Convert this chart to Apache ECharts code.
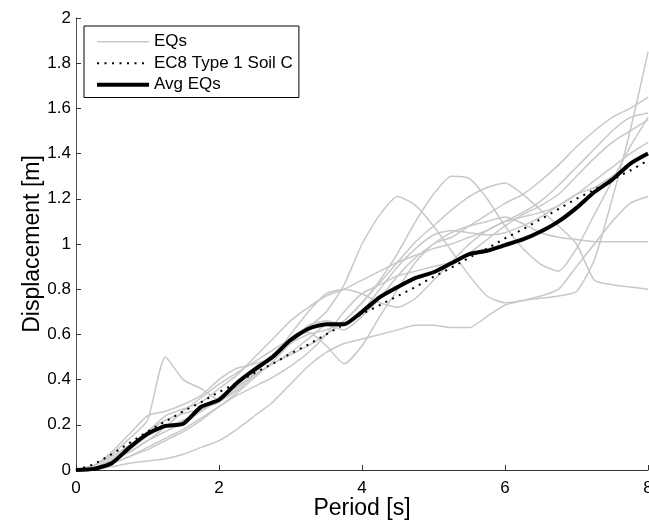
<!DOCTYPE html>
<html>
<head>
<meta charset="utf-8">
<script src="https://cdn.jsdelivr.net/npm/echarts@6/dist/echarts.min.js"></script>
<style>
  html, body { margin: 0; padding: 0; background: #fff; }
  #chart { width: 649px; height: 521px; }
</style>
</head>
<body>
<div id="chart"></div>
<script>
// periods [s], shared by all curves
const period = [0, 0.25, 0.5, 0.75, 1, 1.25, 1.5, 1.75, 2, 2.25, 2.5, 2.75, 3, 3.25, 3.5, 3.75, 4,
  4.25, 4.5, 4.75, 5, 5.25, 5.5, 5.75, 6, 6.25, 6.5, 6.75, 7, 7.25, 7.5, 7.75, 8];

// single earthquake displacement spectra [m]
const eq1 = [0, .02, .07, .14, .22, .50, .40, .36, .31, .35, .42, .47, .52, .58, .64, .62, .68, .76, .86, .94, 1.00, 1.05, 1.08, 1.10, 1.12, 1.09, 1.05, 1.03, 1.02, 1.01, 1.01, 1.01, 1.01];
const eq2 = [0, .01, .04, .08, .13, .17, .21, .26, .31, .37, .42, .47, .51, .55, .60, .66, .74, .84, .96, 1.10, 1.22, 1.30, 1.29, 1.20, 1.08, .98, .91, .88, .98, 1.13, 1.28, 1.43, 1.56];
const eq3 = [0, .01, .03, .06, .10, .14, .18, .23, .28, .34, .41, .48, .56, .63, .70, .82, 1.00, 1.13, 1.21, 1.17, 1.08, .97, .86, .77, .74, .75, .76, .77, .79, .93, 1.20, 1.50, 1.85];
const eq4 = [0, .02, .06, .11, .17, .22, .25, .27, .30, .36, .43, .50, .56, .60, .62, .66, .74, .83, .92, 1.01, 1.08, 1.15, 1.21, 1.25, 1.27, 1.22, 1.15, 1.08, 1.00, .84, .82, .81, .80];
const eq5 = [0, .01, .04, .08, .13, .19, .26, .32, .38, .43, .48, .53, .58, .61, .55, .47, .55, .68, .80, .92, 1.00, 1.03, 1.08, 1.13, 1.18, 1.22, 1.28, 1.35, 1.43, 1.50, 1.56, 1.60, 1.65];
const eq6 = [0, .005, .015, .03, .04, .05, .07, .10, .13, .18, .24, .30, .38, .46, .52, .56, .58, .60, .62, .64, .64, .63, .63, .68, .73, .75, .77, .80, .90, 1.00, 1.10, 1.18, 1.21];
const eq7 = [0, .01, .05, .10, .17, .24, .27, .30, .36, .42, .50, .58, .66, .72, .77, .80, .84, .88, .92, .95, .98, 1.00, 1.03, 1.06, 1.10, 1.14, 1.19, 1.26, 1.34, 1.42, 1.50, 1.56, 1.58];
const eq8 = [0, .01, .03, .06, .09, .13, .17, .22, .28, .33, .37, .41, .46, .52, .60, .70, .78, .82, .86, .88, .90, .92, .96, 1.02, 1.08, 1.13, 1.17, 1.22, 1.30, 1.38, 1.45, 1.50, 1.55];
const eq9 = [0, .02, .08, .16, .24, .26, .29, .33, .40, .45, .47, .50, .60, .70, .78, .80, .78, .74, .72, .76, .84, .92, 1.00, 1.06, 1.10, 1.12, 1.14, 1.17, 1.22, 1.28, 1.34, 1.40, 1.45];
const eq10 = [0, .01, .04, .09, .15, .19, .22, .26, .32, .38, .45, .51, .57, .64, .66, .64, .70, .80, .90, .98, 1.04, 1.06, 1.05, 1.04, 1.05, 1.08, 1.12, 1.17, 1.22, 1.25, 1.30, 1.35, 1.40];
const eqs = [eq1, eq2, eq3, eq4, eq5, eq6, eq7, eq8, eq9, eq10];

// code spectrum and mean of the records
const ec8 = [0, .025, .07, .12, .17, .215, .26, .30, .345, .385, .43, .47, .515, .555, .60, .645, .69,
  .73, .77, .81, .855, .895, .94, .98, 1.025, 1.065, 1.11, 1.155, 1.20, 1.24, 1.285, 1.325, 1.37];
const avg = [0, .005, .03, .10, .16, .195, .205, .28, .31, .385, .445, .50, .575, .625, .645, .645, .70,
  .765, .81, .85, .875, .915, .955, .97, .995, 1.02, 1.055, 1.10, 1.16, 1.23, 1.285, 1.355, 1.40];

const pairs = v => period.map((t, i) => [t, v[i]]);
const font = 'Liberation Sans, Arial, sans-serif';

// itemStyle opacity 0 hides the legend's symbol, keeping only the line sample
const series = eqs.map(v => ({
  name: 'EQs',
  type: 'line',
  data: pairs(v),
  symbol: 'none',
  smooth: 0.2,
  lineStyle: { color: '#c8c8c8', width: 1.5 },
  itemStyle: { color: '#c8c8c8', opacity: 0 },
  z: 1
}));
series.push({
  name: 'EC8 Type 1 Soil C',
  type: 'line',
  data: pairs(ec8),
  symbol: 'none',
  lineStyle: { color: '#000', width: 2, type: [2, 5.5] },
  itemStyle: { color: '#000', opacity: 0 },
  z: 2
});
series.push({
  name: 'Avg EQs',
  type: 'line',
  data: pairs(avg),
  symbol: 'none',
  smooth: 0.2,
  lineStyle: { color: '#000', width: 4 },
  itemStyle: { color: '#000', opacity: 0 },
  z: 3
});

echarts.init(document.getElementById('chart'), null, { renderer: 'canvas' }).setOption({
  animation: false,
  backgroundColor: '#fff',
  textStyle: { fontFamily: font },
  grid: { left: 76, right: 1, top: 18, bottom: 51, outerBoundsMode: 'none' },
  legend: {
    data: [
      { name: 'EQs', lineStyle: { width: 1.5 } },
      { name: 'EC8 Type 1 Soil C', lineStyle: { width: 2 } },
      { name: 'Avg EQs', lineStyle: { width: 4 } }
    ],
    orient: 'vertical',
    left: 84,
    top: 26,
    padding: [7, 6, 4, 11],
    itemWidth: 52,
    itemHeight: 14,
    itemGap: 4,
    itemStyle: { opacity: 0 },
    borderColor: '#000',
    borderWidth: 1,
    backgroundColor: '#fff',
    textStyle: { fontSize: 17, color: '#000', fontFamily: font, lineHeight: 17.5 }
  },
  xAxis: {
    type: 'value',
    min: 0, max: 8, interval: 2,
    name: 'Period [s]',
    nameLocation: 'middle',
    nameGap: 27,
    nameMoveOverlap: false,
    nameTextStyle: { fontSize: 23, color: '#000', fontFamily: font, verticalAlign: 'top' },
    axisLine: { lineStyle: { color: '#333', width: 1 } },
    axisTick: { inside: true, length: 5, lineStyle: { color: '#333' } },
    axisLabel: { fontSize: 17, color: '#000', margin: 10 },
    splitLine: { show: false }
  },
  yAxis: {
    type: 'value',
    min: 0, max: 2, interval: 0.2,
    name: 'Displacement [m]',
    nameLocation: 'middle',
    nameGap: 32,
    nameMoveOverlap: false,
    nameTextStyle: { fontSize: 23, color: '#000', fontFamily: font },
    axisLine: { show: true, lineStyle: { color: '#555', width: 1 } },
    axisTick: { show: true, inside: true, length: 5, lineStyle: { color: '#333' } },
    axisLabel: { fontSize: 17, color: '#000', margin: 5 },
    splitLine: { show: false }
  },
  series: series
});
</script>
</body>
</html>
